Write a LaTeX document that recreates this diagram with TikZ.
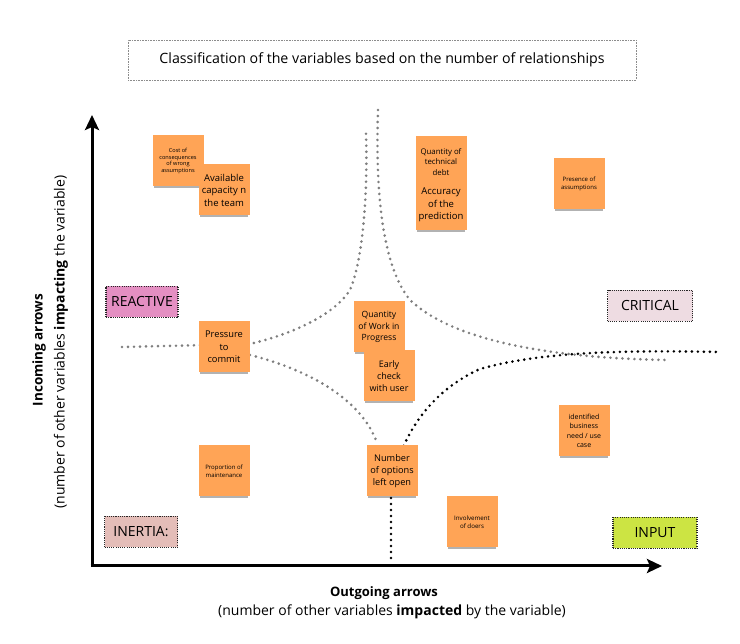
\documentclass[tikz,border=0pt]{standalone}
\usepackage{fontspec}
\setmainfont{Open Sans}
\usetikzlibrary{arrows.meta,shadows,positioning}
\definecolor{sticky}{HTML}{FFA456}
\definecolor{reactivefill}{HTML}{E48FC2}
\definecolor{criticalfill}{HTML}{EEDCE2}
\definecolor{inertiafill}{HTML}{E4BDB8}
\definecolor{inputfill}{HTML}{CCE443}
\definecolor{linegray}{HTML}{7E7E7E}

\begin{document}
\begin{tikzpicture}[x=1pt,y=-1pt,
  note/.style={fill=sticky, minimum width=51pt, minimum height=51pt, inner sep=1pt, align=center,
    drop shadow={shadow xshift=0pt, shadow yshift=-3pt, shadow scale=0.96, opacity=0.3, fill=black}},
  quad/.style={draw=black!85, line width=1.1pt, dash pattern=on 1.1pt off 1.1pt, minimum height=31pt,
    font=\fontsize{14}{16}\selectfont},
  border/.style={line width=2.9pt, dash pattern=on 0pt off 6pt, line cap=round},
  axis/.style={line width=3pt, -{Stealth[length=15pt,width=14pt,inset=3pt]}}]

\fill[white] (0,0) rectangle (740,644);
\useasboundingbox (0,0) rectangle (740,644);

% title
\node[draw=black!45, line width=0.6pt, dash pattern=on 0.8pt off 0.8pt, minimum width=508pt, minimum height=40pt,
  font=\fontsize{14.2}{16}\selectfont] (title) at (382,60)
  {Classification of the variables based on the number of relationships};

% region borders
\draw[border, linegray] (122,347) -- (250,344) .. controls (300,332) and (336,312) .. (350,290)
  .. controls (362,262) and (368,200) .. (366,133);
\draw[border, linegray] (378,110) .. controls (375,200) and (384,268) .. (410,300)
  .. controls (450,338) and (540,358) .. (668,360);
\draw[border, linegray] (250,355) .. controls (310,370) and (362,400) .. (377,443);
\draw[border, black] (391,558) -- (391,497) .. controls (394,452) and (420,396) .. (480,369)
  .. controls (540,352) and (620,350) .. (720,352);

% axes
\coordinate (o) at (92,566);
\coordinate (ytip) at (92,115);
\coordinate (xtip) at (662,566);
\draw[axis] (o) -- (ytip);
\draw[axis] ([xshift=-1.5pt]o) -- (xtip);

\node[font=\bfseries\fontsize{13}{15}\selectfont] (xlab) at (384,593) {Outgoing arrows};
\node[font=\fontsize{14}{16}\selectfont] (xsub) at (392,612)
  {(number of other variables \textbf{impacted} by the variable)};
\node[rotate=90, font=\bfseries\fontsize{13.5}{15}\selectfont] (ylab) at (39,350) {Incoming arrows};
\node[rotate=90, font=\fontsize{14}{16}\selectfont] (ysub) at (61,342)
  {(number of other variables \textbf{impacting} the variable)};

% quadrants
\node[quad, fill=reactivefill, minimum width=72pt] (reactive) at (142,302) {REACTIVE};
\node[quad, fill=criticalfill, minimum width=85pt] (critical) at (650,306) {CRITICAL};
\node[quad, fill=inertiafill, minimum width=73pt] (inertia) at (141,532) {INERTIA:};
\node[quad, fill=inputfill, minimum width=84pt] (input) at (655,533) {INPUT};

% sticky notes
\foreach \n/\x/\y/\s/\l/\t in {
    cost/178/161/5.6/6.6/{Cost of\\consequences\\of wrong\\assumptions},
    capacity/224/190/9.5/12.5/{Available\\capacity n\\the team},
    debt/441/162/7.8/10.5/{Quantity of\\technical\\debt},
    accuracy/441/205/9.5/12.5/{Accuracy\\of the\\prediction},
    presence/579/184/6/7.5/{Presence of\\assumptions},
    wip/379/327/8.6/11.5/{Quantity\\of Work in\\Progress},
    early/389/376/9/12/{Early\\check\\with user},
    pressure/224/347/9.3/12.5/{Pressure\\to\\commit},
    business/584/431/7/9.5/{identified\\business\\need / use\\case},
    maintenance/224/471/6/8/{Proportion of\\maintenance},
    options/392/471/9.2/12.3/{Number\\of options\\left open},
    doers/472/522/6.2/8.6/{Involvement\\of doers}}{
  \node[note, font=\fontsize{\s}{\l}\selectfont] (\n) at (\x,\y) {\t};
}

\end{tikzpicture}
\end{document}
